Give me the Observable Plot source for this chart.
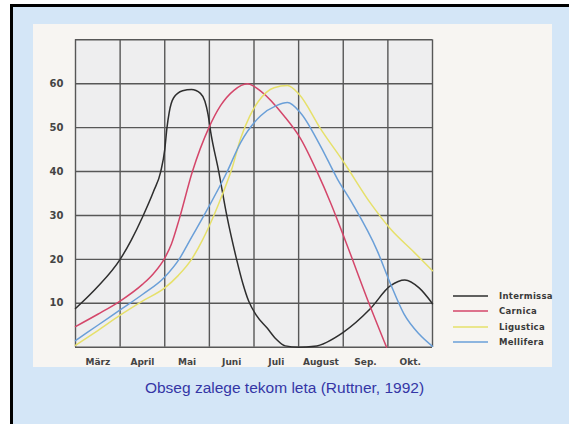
<!DOCTYPE html>
<html>
<head>
<meta charset="utf-8">
<script src="https://cdn.jsdelivr.net/npm/d3@7"></script>
<script src="https://cdn.jsdelivr.net/npm/@observablehq/plot@0.6"></script>
<style>
  html, body { margin:0; padding:0; }
  body { width:569px; height:424px; overflow:hidden; background:#ffffff; position:relative; font-family:"Liberation Sans", Arial, sans-serif; }
  #slide { position:absolute; left:10px; top:4px; width:620px; height:480px; border-left:3px solid #000; border-top:3px solid #000;
    background:#d4e6f7; }
  #chart { position:absolute; left:33px; top:24px; width:519px; height:343px; background:#f7f5f2; }
  #legend { position:absolute; left:453px; top:288px; font-family:"DejaVu Sans", sans-serif; font-weight:bold; font-size:8.5px; color:#3a3a3a; letter-spacing:0.3px; }
  .row { display:flex; align-items:center; height:15.5px; }
  .row svg { width:35px; height:4px; margin-right:11px; }
  #caption { position:absolute; left:0; top:380px; width:569px; text-align:center; font-size:15.5px; color:#3436a6; line-height:1; }
</style>
</head>
<body>
<div id="slide"></div>
<div id="chart"></div>
<div id="legend"></div>
<div id="caption">Obseg zalege tekom leta (Ruttner, 1992)</div>
<script>
const months = ["März","April","Mai","Juni","Juli","August","Sep.","Okt."];
const seriesNames = ["Intermissa","Carnica","Ligustica","Mellifera"];
const seriesColors = ["#2e2e2e","#d4466a","#e6e06a","#6a9fd8"];
const yTicks = [10,20,30,40,50,60];

// t = months elapsed since start of March, v = brood extent
const intermissaT = [0,0.5,1,1.25,1.5,1.75,1.91,2.0,2.05,2.1,2.2,2.4,2.6,2.8,2.9,2.97,3.03,3.21,3.39,3.61,3.75,3.88,4.05,4.3,4.5,4.7,5.0,5.35,6.0,6.6,7.06,7.38,7.7,8.0];
const intermissaV = [8.8,13.8,20,24.4,29.6,35.5,40,45,50,53.5,56.8,58.4,58.7,57.8,56,53,49,40,30,20,14.5,10.5,7.3,4.3,1.8,0.3,0,0.2,3.4,8.7,14,15.3,13.5,9.9];

const carnicaT = [0,0.5,1,1.5,1.75,2.0,2.15,2.32,2.62,2.99,3.25,3.55,3.85,4.15,4.67,5.05,5.42,5.72,6.05,6.58,6.97];
const carnicaV = [4.7,7.5,10.5,14.3,16.8,20.3,23.5,29,40,50,55,58.5,60,58.3,52.7,47.4,39.8,32.8,24.2,9.9,0];

const ligusticaT = [0,0.5,1,1.5,2,2.3,2.6,2.85,3.1,3.3,3.5,3.7,3.9,4.1,4.45,4.75,5.01,5.5,6.02,6.61,7.06,7.59,8];
const ligusticaV = [0.4,3.8,7.3,10.5,13.5,16.3,20,24.5,30,35,40.5,47.5,52.5,56,59.1,59.6,57.6,49.6,42,32.8,26.9,21.6,17.4];

const melliferaT = [0,0.5,1,1.5,2,2.32,2.6,2.88,3.4,3.7,4.15,4.5,4.75,5.04,5.49,5.87,6.2,6.76,7.06,7.36,7.7,8];
const melliferaV = [1.5,5,8.5,12,16,20,25,30,40,46.6,52.7,55,55.7,53.4,45.8,38.3,32.8,22,14.4,7.6,3,0.2];

const allT = [intermissaT, carnicaT, ligusticaT, melliferaT];
const allV = [intermissaV, carnicaV, ligusticaV, melliferaV];

const data = [];
seriesNames.forEach((name, s) => {
  allT[s].forEach((t, i) => data.push({series:name, t, v: allV[s][i]}));
});

const xGrid = d3.range(months.length + 1);
const yGrid = d3.range(0, 71, 10);
const monthCenters = months.map((m, i) => i + 0.5);

const plot = Plot.plot({
  width: 519,
  height: 343,
  marginLeft: 42,
  marginTop: 15.3,
  marginRight: 120,
  marginBottom: 20.3,
  style: {background: "transparent", overflow: "visible"},
  x: {domain: [0, months.length]},
  y: {domain: [0, 70]},
  color: {domain: seriesNames, range: seriesColors},
  marks: [
    Plot.frame({fill: "#eeeeef", stroke: null}),
    Plot.ruleX(xGrid, {stroke: "#575757", strokeWidth: 1.4}),
    Plot.ruleY(yGrid, {stroke: "#575757", strokeWidth: 1.4}),
    Plot.line(data, {x: "t", y: "v", z: "series", stroke: "series", strokeWidth: 1.5, curve: "monotone-x"}),
    Plot.axisY(yTicks, {tickSize: 0, tickPadding: 12, fontSize: 10, fontWeight: "bold", fill: "#444",
      fontFamily: "DejaVu Sans", style: "letter-spacing:1px", label: null}),
    Plot.axisX(monthCenters, {tickSize: 0, tickPadding: 11, fontSize: 9, fontWeight: "bold", fill: "#444",
      fontFamily: "DejaVu Sans", tickFormat: d => months[Math.floor(d)], label: null})
  ]
});
document.getElementById("chart").appendChild(plot);

const legend = document.getElementById("legend");
seriesNames.forEach((name, i) => {
  const row = document.createElement("div");
  row.className = "row";
  row.innerHTML = `<svg viewBox="0 0 35 4"><line x1="0" y1="2" x2="35" y2="2" stroke="${seriesColors[i]}" stroke-width="1.5"/></svg><span>${name}</span>`;
  legend.appendChild(row);
});
</script>
</body>
</html>
